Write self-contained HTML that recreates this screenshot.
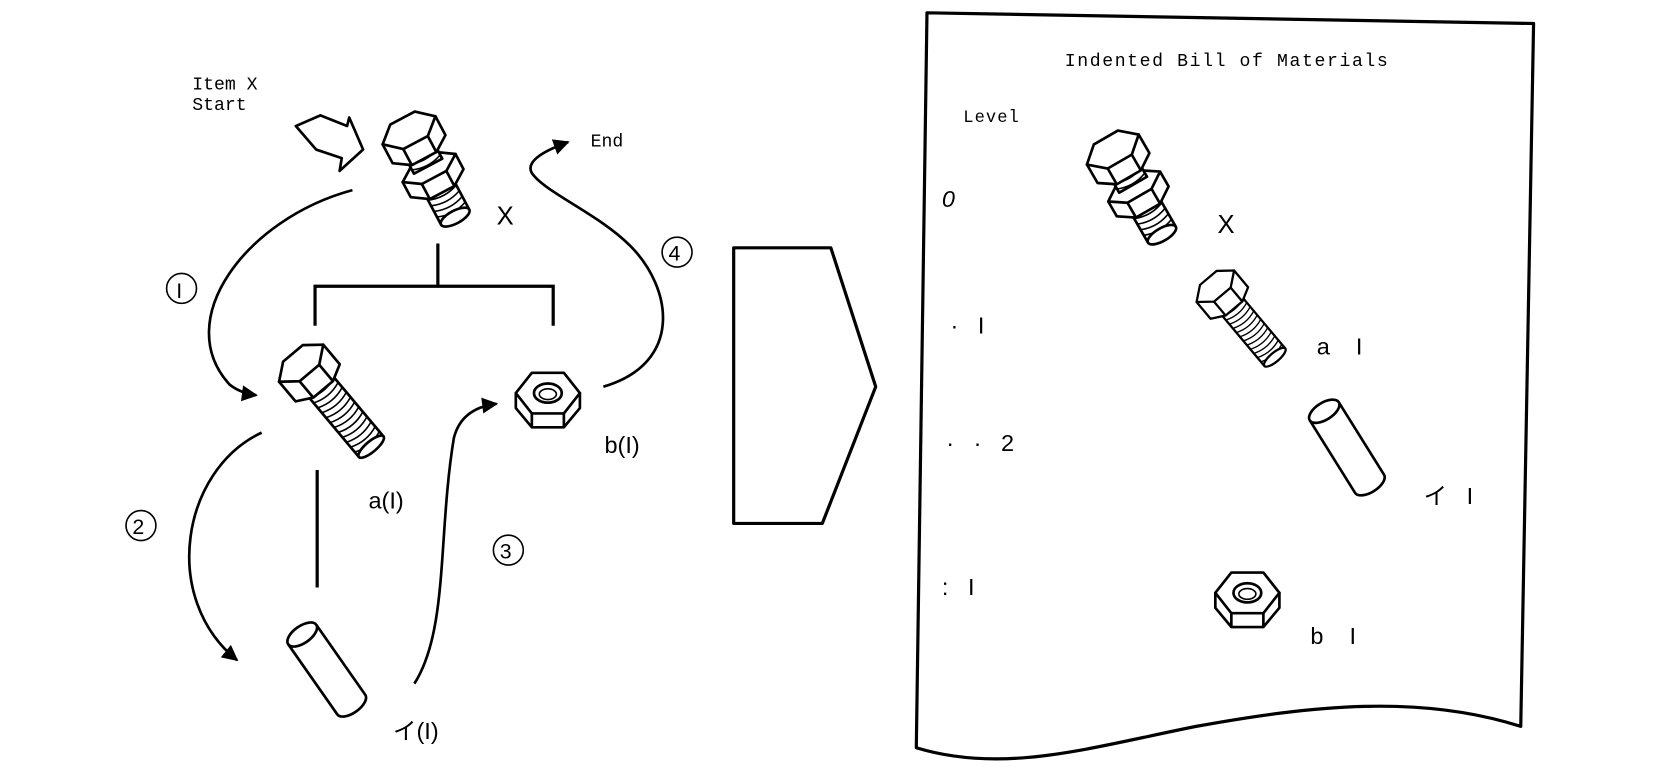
<!DOCTYPE html>
<html><head><meta charset="utf-8"><style>
html,body{margin:0;padding:0;background:#fff;}
svg{display:block}
text{font-family:"Liberation Mono","Noto Sans CJK JP",monospace;fill:#000;white-space:pre}
.s{font-family:"Liberation Sans","Noto Sans CJK JP",sans-serif}
</style></head><body>
<svg width="1666" height="783" viewBox="0 0 1560 733" preserveAspectRatio="none" xmlns="http://www.w3.org/2000/svg">
<defs>
<g id="bolt" fill="#fff" stroke="#000" stroke-width="2.5" stroke-linejoin="round">
  <rect x="-15" y="22" width="30" height="80"/>
  <g stroke-width="1.5" fill="none">
   <path d="M-15 30 Q0 36 15 30 M-15 36 Q0 42 15 36 M-15 42 Q0 48 15 42 M-15 48 Q0 54 15 48 M-15 54 Q0 60 15 54 M-15 60 Q0 66 15 60 M-15 66 Q0 72 15 66 M-15 72 Q0 78 15 72 M-15 78 Q0 84 15 78 M-15 84 Q0 90 15 84 M-15 90 Q0 96 15 90 M-15 96 Q0 102 15 96"/>
  </g>
  <ellipse cx="0" cy="102" rx="15" ry="5"/>
  <path d="M-27 0 L-27 24 L-12 32 L12 32 L27 24 L27 0 Z"/>
  <path d="M-27 0 L-12 -12 L12 -12 L27 0 L12 12 L-12 12 Z"/>
  <path d="M-12 12 L-12 32 M12 12 L12 32" fill="none"/>
</g>
<g id="nut" fill="#fff" stroke="#000" stroke-width="2.5" stroke-linejoin="round">
  <path d="M-30 0 L-30 14 L-15 32 L15 32 L30 14 L30 0 Z"/>
  <path d="M-30 0 L-15 -19 L15 -19 L30 0 L15 19 L-15 19 Z"/>
  <path d="M-15 19 L-15 32 M15 19 L15 32" fill="none"/>
  <ellipse cx="0" cy="0" rx="13" ry="9"/>
  <ellipse cx="0" cy="1" rx="8" ry="5" stroke-width="1.5"/>
</g>
<g id="pin" fill="#fff" stroke="#000" stroke-width="2.5">
  <path d="M-16 0 L-16 80 A16 8 0 0 0 16 80 L16 0"/>
  <ellipse cx="0" cy="0" rx="16" ry="8"/>
</g>
<g id="assy" fill="#fff" stroke="#000" stroke-width="2.5" stroke-linejoin="round">
  <rect x="-15" y="60" width="30" height="32"/>
  <g stroke-width="1.5" fill="none"><path d="M-15 66 Q0 72 15 66 M-15 72 Q0 78 15 72 M-15 78 Q0 84 15 78 M-15 84 Q0 90 15 84"/></g>
  <ellipse cx="0" cy="92" rx="15" ry="6"/>
  <path d="M-28 40 L-28 56 L-13 66 L13 66 L28 56 L28 40 Z"/>
  <path d="M-28 40 L-13 30 L13 30 L28 40 L13 50 L-13 50 Z"/>
  <path d="M-13 50 L-13 66 M13 50 L13 66" fill="none"/>
  <rect x="-15" y="22" width="30" height="16"/>
  <g stroke-width="1.5" fill="none"><path d="M-15 28 Q0 34 15 28 M-15 34 Q0 40 15 34"/></g>
  <path d="M-28 0 L-28 20 L-13 30 L13 30 L28 20 L28 0 Z"/>
  <path d="M-28 0 L-13 -13 L13 -13 L28 0 L13 13 L-13 13 Z"/>
  <path d="M-13 13 L-13 30 M13 13 L13 30" fill="none"/>
</g>
<marker id="ah" viewBox="0 0 10 10" refX="9" refY="5" markerWidth="7" markerHeight="6" orient="auto-start-reverse">
  <path d="M0 0 L10 5 L0 10 Z" fill="#000"/>
</marker>
</defs>

<text x="180" y="84" font-size="17">Item X</text>
<text x="180" y="103" font-size="17">Start</text>
<path d="M277 118 L300 108 L325 118 L327 110 L340 140 L318 160 L320 148 L296 140 Z" fill="#fff" stroke="#000" stroke-width="2.5" stroke-linejoin="round"/>

<g transform="translate(383,122) rotate(-28)"><use href="#assy"/></g>
<text x="465" y="210" font-size="24" class="s">X</text>

<path d="M410 228 V268 M295 305 V268 H518 V305" fill="none" stroke="#000" stroke-width="3"/>

<g transform="translate(282,340) rotate(-40)"><use href="#bolt"/></g>
<text x="345" y="476" font-size="22" class="s">a(I)</text>

<use href="#nut" transform="translate(513,368)"/>
<text x="566" y="424" font-size="22" class="s">b(I)</text>

<path d="M297 440 V550" stroke="#000" stroke-width="3"/>

<g transform="translate(283,594) rotate(-35)"><use href="#pin"/></g>
<text x="368" y="692" font-size="22" class="s">イ(I)</text>

<g fill="none" stroke="#000" stroke-width="2.5">
  <path d="M330 178 C230 205 160 300 215 360 Q225 368 240 370" marker-end="url(#ah)"/>
  <path d="M245 405 C170 440 150 560 222 618" marker-end="url(#ah)"/>
  <path d="M388 640 C420 590 410 500 425 410 Q432 382 465 378" marker-end="url(#ah)"/>
  <path d="M565 362 C640 340 630 270 590 230 C560 200 510 180 498 162 Q490 148 532 133" marker-end="url(#ah)"/>
</g>
<g fill="none" stroke="#000" stroke-width="1.5">
  <circle cx="170" cy="270" r="14"/><circle cx="132" cy="492" r="14"/>
  <circle cx="476" cy="515" r="14"/><circle cx="634" cy="236" r="14"/>
</g>
<text x="165" y="279" font-size="20" class="s">I</text>
<text x="124" y="500" font-size="20" class="s">2</text>
<text x="468" y="523" font-size="20" class="s">3</text>
<text x="626" y="244" font-size="20" class="s">4</text>
<text x="553" y="137" font-size="17">End</text>

<path d="M687 232 L778 232 L820 362 L770 490 L687 490 Z" fill="#fff" stroke="#000" stroke-width="3" stroke-linejoin="round"/>

<path d="M868 12 L1436 22 L1424 680 C1330 650 1230 660 1120 680 C1020 700 940 725 858 700 Z" fill="#fff" stroke="#000" stroke-width="3" stroke-linejoin="round"/>
<text x="997" y="62" font-size="17" letter-spacing="1.5">Indented Bill of Materials</text>
<text x="902" y="114" font-size="16" letter-spacing="1">Level</text>
<text x="882" y="194" font-size="22" class="s" font-style="italic">0</text>
<text x="890" y="312" font-size="22" class="s">·   I</text>
<text x="886" y="422" font-size="22" class="s">·   ·   2</text>
<text x="882" y="557" font-size="22" class="s">:   I</text>

<g transform="translate(1042,140) rotate(-30)"><use href="#assy"/></g>
<text x="1140" y="218" font-size="24" class="s">X</text>
<g transform="translate(1138,268) rotate(-40) scale(0.85)"><use href="#bolt"/></g>
<text x="1233" y="332" font-size="22" class="s">a    I</text>
<g transform="translate(1240,385) rotate(-32)"><use href="#pin"/></g>
<text x="1333" y="472" font-size="22" class="s">イ   I</text>
<use href="#nut" transform="translate(1168,555)"/>
<text x="1227" y="603" font-size="22" class="s">b    I</text>
</svg>
</body></html>
